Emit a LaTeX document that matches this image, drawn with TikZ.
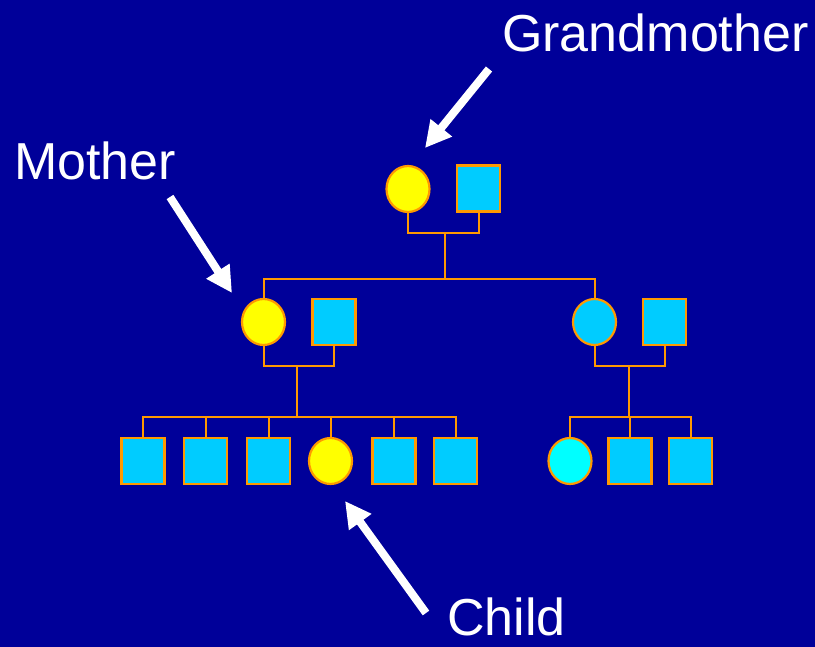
\documentclass[tikz,border=0pt]{standalone}
\usepackage{fontspec}
\setmainfont{Liberation Sans}
\usetikzlibrary{shapes.geometric,arrows.meta}
\definecolor{bgblue}{RGB}{0,0,153}
\definecolor{sqcyan}{RGB}{0,204,255}
\definecolor{brightcyan}{RGB}{0,255,255}
\definecolor{lineorange}{RGB}{255,153,0}
\definecolor{fyellow}{RGB}{255,255,0}
\begin{document}
\begin{tikzpicture}[x=1pt,y=-1pt,
  male/.style={rectangle,draw=lineorange,line width=2.2pt,fill=sqcyan,minimum width=43pt,minimum height=46pt,inner sep=0pt},
  female/.style={ellipse,draw=lineorange,line width=2.2pt,fill=fyellow,minimum width=43pt,minimum height=46pt,inner sep=0pt},
  link/.style={draw=lineorange,line width=2pt},
  lbl/.style={text=white,inner sep=0pt,anchor=base west,font=\fontsize{52}{60}\selectfont},
  pointer/.style={draw=white,line width=8pt,-{Triangle[length=26pt,width=26pt]}}]
\fill[bgblue] (0,0) rectangle (815,647);
\useasboundingbox (0,0) rectangle (815,647);
% generation 1
\node[female] (gm) at (408,189) {};
\node[male] (gf) at (478.5,188.5) {};
% generation 2
\node[female] (m) at (263.5,322) {};
\node[male] (f) at (334,322) {};
\node[female,fill=sqcyan] (a) at (594.5,322) {};
\node[male] (u) at (664.5,322) {};
% generation 3
\node[male] (c1) at (143,461) {};
\node[male] (c2) at (205.5,461) {};
\node[male] (c3) at (268.5,461) {};
\node[female] (c4) at (330.5,461) {};
\node[male] (c5) at (394,461) {};
\node[male] (c6) at (455.5,461) {};
\node[female,fill=brightcyan] (d1) at (570,461) {};
\node[male] (d2) at (630,461) {};
\node[male] (d3) at (690.5,461) {};
% junctions
\coordinate (gj) at (445,233);
\coordinate (sib) at (445,279);
\coordinate (mj) at (297,366);
\coordinate (mk) at (297,417);
\coordinate (aj) at (629,366);
\coordinate (ak) at (629,417);
% lines
\draw[link] (gm.south) |- (gj) -| (gf.south);
\draw[link] (gj) -- (sib);
\draw[link] (m.north) |- (sib) -| (a.north);
\draw[link] (m.south) |- (mj) -| (f.south);
\draw[link] (mj) -- (mk);
\draw[link] (c1.north) |- (mk) -| (c6.north);
\foreach \n in {c2,c3,c4,c5} \draw[link] (\n.north) -- (\n.north |- mk);
\draw[link] (a.south) |- (aj) -| (u.south);
\draw[link] (aj) -- (ak);
\draw[link] (d1.north) |- (ak) -| (d3.north);
\draw[link] (d2.north) -- (d2.north |- ak);
% labels
\node[lbl] (tg) at (502,52) {Grandmother};
\node[lbl] (tm) at (14,180) {Mother};
\node[lbl] (tc) at (447,635) {Child};
% pointers
\coordinate (ga) at (489,69);
\coordinate (gb) at (425,148);
\coordinate (ma) at (170,197);
\coordinate (mb) at (232,293);
\coordinate (ca) at (426,613);
\coordinate (cb) at (345,501);
\draw[pointer] (ga) -- (gb);
\draw[pointer] (ma) -- (mb);
\draw[pointer] (ca) -- (cb);
\end{tikzpicture}
\end{document}
